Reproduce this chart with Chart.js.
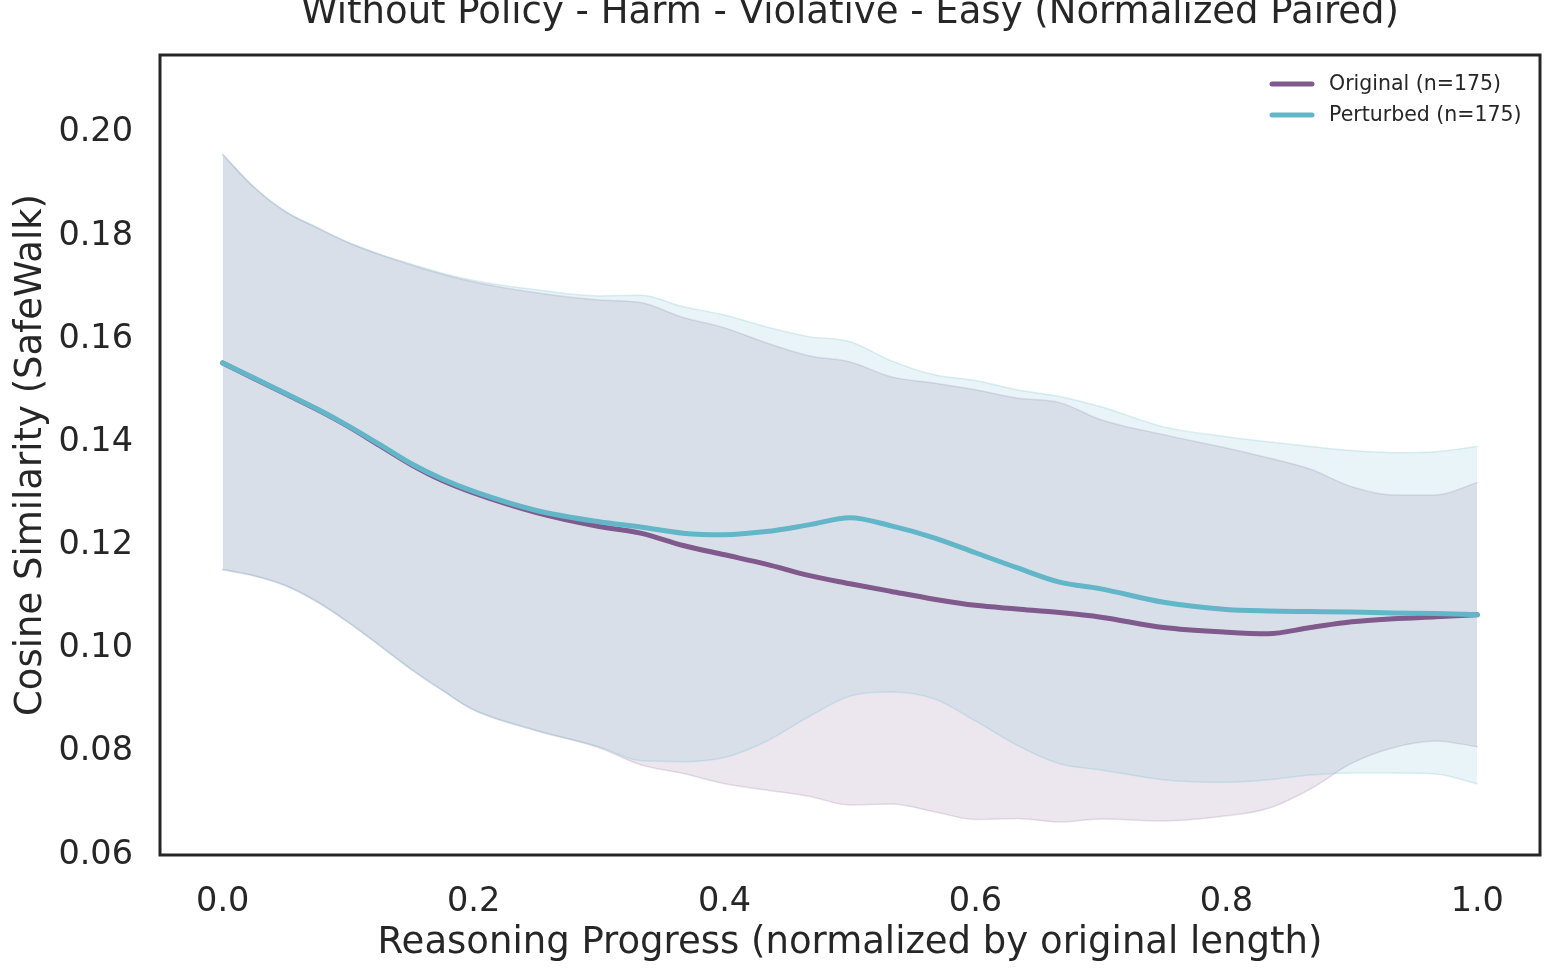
<!DOCTYPE html>
<html>
<head>
<meta charset="utf-8">
<script src="https://cdn.jsdelivr.net/npm/chart.js@4.4.1/dist/chart.umd.min.js"></script>
<style>
html,body{margin:0;padding:0;background:#fff;overflow:hidden;}
#c{display:block;}
</style>
</head>
<body>
<canvas id="c" width="1555" height="974"></canvas>
<script>
const titleText = "Without Policy - Harm - Violative - Easy (Normalized Paired)";
const xLabel = "Reasoning Progress (normalized by original length)";
const yLabel = "Cosine Similarity (SafeWalk)";
const seriesNames = ["Original (n=175)", "Perturbed (n=175)"];

const progress = [0, 0.025, 0.05, 0.075, 0.1, 0.125, 0.15, 0.175, 0.2, 0.25, 0.3, 0.333, 0.367, 0.4, 0.433, 0.467, 0.5, 0.533, 0.567, 0.6, 0.633, 0.667, 0.7, 0.75, 0.8, 0.833, 0.867, 0.9, 0.933, 0.967, 1.0];

const originalMean = [0.1546, 0.1516, 0.1486, 0.1456, 0.1423, 0.1386, 0.1349, 0.1318, 0.1294, 0.1256, 0.1229, 0.1216, 0.1192, 0.1174, 0.1156, 0.1134, 0.1118, 0.1103, 0.1088, 0.1076, 0.1069, 0.1062, 0.1053, 0.1033, 0.1024, 0.1021, 0.1033, 0.1044, 0.1050, 0.1054, 0.1058];
const originalUpper = [0.1950, 0.1886, 0.1839, 0.1808, 0.1779, 0.1756, 0.1736, 0.1718, 0.1703, 0.1682, 0.1668, 0.1663, 0.1634, 0.1614, 0.1585, 0.1560, 0.1548, 0.1519, 0.1507, 0.1494, 0.1478, 0.1469, 0.1436, 0.1407, 0.1381, 0.1362, 0.1340, 0.1306, 0.1290, 0.1290, 0.1314];
const originalLower = [0.1145, 0.1133, 0.1114, 0.1083, 0.1043, 0.0998, 0.0952, 0.0911, 0.0873, 0.0833, 0.0800, 0.0767, 0.0750, 0.0730, 0.0718, 0.0706, 0.0689, 0.0691, 0.0676, 0.0661, 0.0663, 0.0656, 0.0662, 0.0658, 0.0668, 0.0682, 0.0720, 0.0770, 0.0800, 0.0813, 0.0802];

const perturbedMean = [0.1546, 0.1517, 0.1487, 0.1457, 0.1424, 0.1388, 0.1351, 0.1321, 0.1297, 0.1260, 0.1238, 0.1228, 0.1216, 0.1213, 0.1219, 0.1232, 0.1246, 0.1230, 0.1207, 0.1178, 0.1149, 0.1121, 0.1108, 0.1082, 0.1068, 0.1065, 0.1064, 0.1063, 0.1061, 0.1060, 0.1058];
const perturbedUpper = [0.1950, 0.1887, 0.1840, 0.1809, 0.1780, 0.1757, 0.1738, 0.1720, 0.1706, 0.1688, 0.1676, 0.1677, 0.1655, 0.1639, 0.1616, 0.1597, 0.1587, 0.1550, 0.1523, 0.1512, 0.1494, 0.1481, 0.1461, 0.1422, 0.1403, 0.1393, 0.1384, 0.1376, 0.1372, 0.1374, 0.1384];
const perturbedLower = [0.1146, 0.1134, 0.1115, 0.1084, 0.1044, 0.0999, 0.0953, 0.0912, 0.0874, 0.0834, 0.0802, 0.0775, 0.0773, 0.0781, 0.0812, 0.0860, 0.0900, 0.0908, 0.0895, 0.0852, 0.0805, 0.0769, 0.0757, 0.0738, 0.0733, 0.0738, 0.0747, 0.0751, 0.0751, 0.0749, 0.0730];

const yTicks = [0.06, 0.08, 0.10, 0.12, 0.14, 0.16, 0.18, 0.20];
const xTicks = [0.0, 0.2, 0.4, 0.6, 0.8, 1.0];

const PURPLE = 'rgb(128,90,140)';
const CYAN = 'rgb(98,182,200)';
const PURPLE_FILL = 'rgba(128,90,140,0.15)';
const CYAN_FILL = 'rgba(98,182,200,0.15)';
const PURPLE_EDGE = 'rgba(128,90,140,0.18)';
const CYAN_EDGE = 'rgba(98,182,200,0.22)';
const TEXT = '#262626';
const FONT = "'DejaVu Sans', sans-serif";

function pts(ys){ return progress.map((x,i)=>({x:x, y:ys[i]})); }

const datasets = [
  {label: seriesNames[1], data: pts(perturbedMean), borderColor: CYAN, borderWidth: 5, fill: false, order: 0},
  {label: seriesNames[0], data: pts(originalMean), borderColor: PURPLE, borderWidth: 5, fill: false, order: 1},
  {label: 'pu', data: pts(perturbedUpper), borderColor: CYAN_EDGE, borderWidth: 1.5, backgroundColor: CYAN_FILL, fill: '+1', order: 2},
  {label: 'pl', data: pts(perturbedLower), borderColor: CYAN_EDGE, borderWidth: 1.5, fill: false, order: 3},
  {label: 'ou', data: pts(originalUpper), borderColor: PURPLE_EDGE, borderWidth: 1.5, backgroundColor: PURPLE_FILL, fill: '+1', order: 4},
  {label: 'ol', data: pts(originalLower), borderColor: PURPLE_EDGE, borderWidth: 1.5, fill: false, order: 5}
];

const framePlugin = {
  id: 'frame',
  afterDraw(chart){
    const {ctx, chartArea: a} = chart;
    ctx.save();
    ctx.strokeStyle = TEXT;
    ctx.lineWidth = 3;
    ctx.strokeRect(a.left, a.top, a.right - a.left, a.bottom - a.top);
    // title
    ctx.fillStyle = TEXT;
    ctx.font = "37px " + FONT;
    ctx.textAlign = 'center';
    ctx.textBaseline = 'alphabetic';
    ctx.fillText(titleText, (a.left + a.right) / 2, 23);
    // legend
    const entries = [[seriesNames[0], PURPLE], [seriesNames[1], CYAN]];
    ctx.font = "20.5px " + FONT;
    ctx.textAlign = 'left';
    ctx.textBaseline = 'middle';
    entries.forEach((e, i) => {
      const y = 84 + i * 31;
      ctx.strokeStyle = e[1];
      ctx.lineWidth = 5;
      ctx.lineCap = 'round';
      ctx.beginPath();
      ctx.moveTo(1272, y);
      ctx.lineTo(1312, y);
      ctx.stroke();
      ctx.fillStyle = TEXT;
      ctx.fillText(e[0], 1329, y + 1);
    });
    ctx.restore();
  }
};

new Chart(document.getElementById('c'), {
  type: 'line',
  data: {datasets},
  options: {
    responsive: false,
    devicePixelRatio: 1,
    animation: false,
    layout: {padding: {top: 55, right: 15, left: 0, bottom: 0}},
    elements: {
      point: {radius: 0},
      line: {cubicInterpolationMode: 'monotone', borderCapStyle: 'round', borderJoinStyle: 'round'}
    },
    plugins: {legend: {display: false}, tooltip: {enabled: false}, title: {display: false}},
    scales: {
      x: {
        type: 'linear',
        min: -0.05, max: 1.05,
        afterFit(axis){ axis.height = 119; },
        afterBuildTicks(axis){ axis.ticks = xTicks.map(v => ({value: v})); },
        grid: {display: false, drawTicks: false},
        border: {display: false},
        ticks: {color: TEXT, font: {family: FONT, size: 33.5}, padding: 27, maxRotation: 0,
          callback: v => v.toFixed(1)},
        title: {display: true, text: xLabel, color: TEXT, font: {family: FONT, size: 37}, padding: {top: 0, bottom: 8}}
      },
      y: {
        type: 'linear',
        min: 0.0592, max: 0.2143,
        afterFit(axis){ axis.width = 160; },
        afterBuildTicks(axis){ axis.ticks = yTicks.map(v => ({value: v})); },
        grid: {display: false, drawTicks: false},
        border: {display: false},
        ticks: {color: TEXT, font: {family: FONT, size: 33.5}, padding: 27, labelOffset: 4,
          callback: v => v.toFixed(2)},
        title: {display: true, text: yLabel, color: TEXT, font: {family: FONT, size: 37}, padding: {top: 9, bottom: 0}}
      }
    }
  },
  plugins: [framePlugin]
});
</script>
</body>
</html>
